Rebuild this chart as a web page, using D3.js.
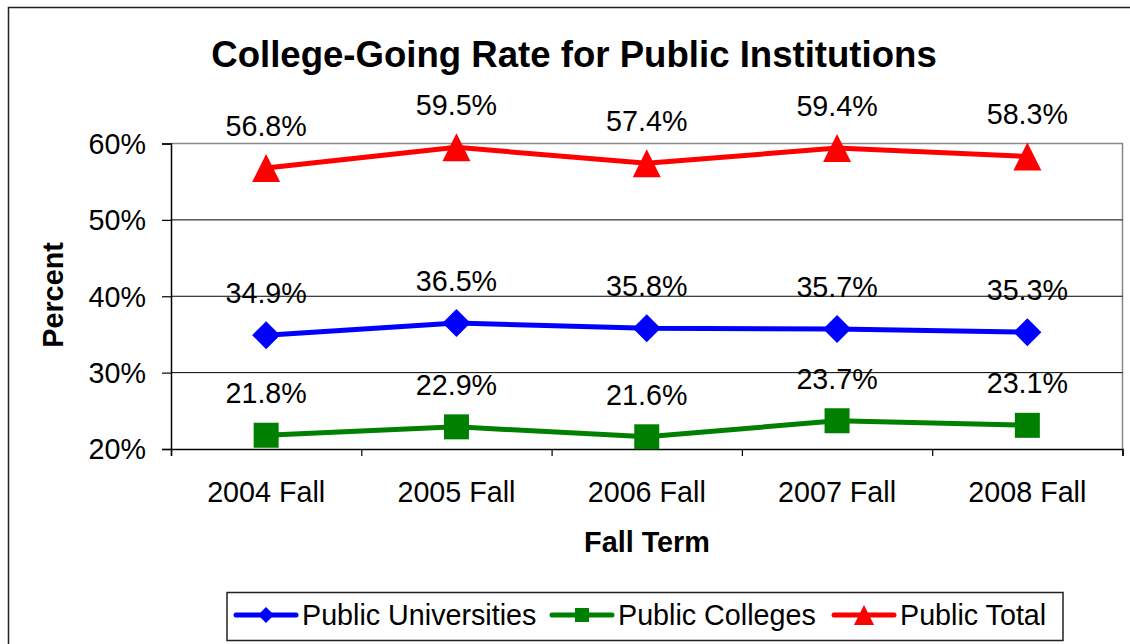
<!DOCTYPE html>
<html>
<head>
<meta charset="utf-8">
<script src="https://cdn.jsdelivr.net/npm/d3@7"></script>
<style>
  html, body { margin: 0; padding: 0; background: #fff; }
  svg { display: block; font-family: "Liberation Sans", Arial, sans-serif; }
</style>
</head>
<body>
<div id="chart"></div>
<script>
(function () {
  'use strict';

  const terms = ['2004 Fall', '2005 Fall', '2006 Fall', '2007 Fall', '2008 Fall'];
  const universities = [34.9, 36.5, 35.8, 35.7, 35.3];
  const colleges = [21.8, 22.9, 21.6, 23.7, 23.1];
  const total = [56.8, 59.5, 57.4, 59.4, 58.3];
  const yTicks = [20, 30, 40, 50, 60];

  const series = [
    { name: 'Public Universities', values: universities, color: '#0000ff', shape: 'diamond' },
    { name: 'Public Colleges', values: colleges, color: '#008000', shape: 'square' },
    { name: 'Public Total', values: total, color: '#ff0000', shape: 'triangle' }
  ];

  const width = 1130;
  const height = 644;
  const left = 171, right = 1122.5, top = 143.5, bottom = 449;
  const fontSize = '28.7px';

  const svg = d3.select('#chart')
    .append('svg')
    .attr('width', width)
    .attr('height', height);

  // outer chart border (runs off the right and bottom edge)
  svg.append('rect')
    .attr('x', 8.5).attr('y', 7.5)
    .attr('width', 1140).attr('height', 660)
    .attr('fill', '#fff')
    .attr('stroke', '#222')
    .attr('stroke-width', 1.5);

  const x = d3.scaleBand().domain(terms).range([left, right]).padding(0);
  const xEdge = d3.scaleLinear().domain([0, terms.length]).range([left, right]);
  const y = d3.scaleLinear().domain([20, 60]).range([bottom, top]);

  // title
  svg.append('text')
    .attr('x', 574).attr('y', 67)
    .attr('text-anchor', 'middle')
    .style('font-weight', 'bold')
    .style('font-size', '36.6px')
    .text('College-Going Rate for Public Institutions');

  // plot frame: grey top and right
  svg.append('path')
    .attr('d', 'M' + left + ',' + top + 'H' + right + 'V' + bottom)
    .attr('fill', 'none')
    .attr('stroke', '#888')
    .attr('stroke-width', 1.5);

  // gridlines
  svg.append('g')
    .selectAll('line')
    .data(yTicks.filter(d => d > 20 && d < 60))
    .enter()
    .append('line')
    .attr('x1', left).attr('x2', right)
    .attr('y1', d => y(d)).attr('y2', d => y(d))
    .attr('stroke', '#000')
    .attr('stroke-width', 1);

  // y axis
  const yAxis = svg.append('g')
    .attr('transform', 'translate(' + left + ',0)')
    .call(d3.axisLeft(y).tickValues(yTicks).tickSize(9).tickPadding(16).tickFormat(d => d + '%'));
  yAxis.select('.domain').attr('stroke', '#000').attr('stroke-width', 1.5);
  yAxis.selectAll('.tick line').attr('stroke', '#000').attr('stroke-width', 1.2);
  yAxis.selectAll('text')
    .attr('font-family', '"Liberation Sans", Arial, sans-serif')
    .style('font-size', fontSize)
    .attr('fill', '#000')
    .attr('dy', '0.34em');

  // x axis: tick marks on category edges
  const xTickAxis = svg.append('g')
    .attr('transform', 'translate(0,' + bottom + ')')
    .call(d3.axisBottom(xEdge).tickValues(d3.range(terms.length + 1)).tickSize(7).tickFormat(''));
  xTickAxis.select('.domain').attr('stroke', '#000').attr('stroke-width', 1.5);
  xTickAxis.selectAll('.tick line').attr('stroke', '#000').attr('stroke-width', 1.2);

  // x labels at category centres
  const xLabelAxis = svg.append('g')
    .attr('transform', 'translate(0,' + bottom + ')')
    .call(d3.axisBottom(x).tickSize(0).tickPadding(0));
  xLabelAxis.select('.domain').remove();
  xLabelAxis.selectAll('text')
    .attr('font-family', '"Liberation Sans", Arial, sans-serif')
    .style('font-size', fontSize)
    .attr('fill', '#000')
    .attr('dy', null)
    .attr('y', 52.5);

  // axis titles
  svg.append('text')
    .attr('x', 647).attr('y', 552)
    .attr('text-anchor', 'middle')
    .style('font-weight', 'bold')
    .style('font-size', '28.8px')
    .text('Fall Term');

  svg.append('text')
    .attr('transform', 'translate(63,295) rotate(-90)')
    .attr('text-anchor', 'middle')
    .style('font-weight', 'bold')
    .style('font-size', '28.8px')
    .text('Percent');

  function markerPath(shape, s) {
    const h = s / 2;
    if (shape === 'diamond') {
      return 'M0,' + (-h) + 'L' + h + ',0L0,' + h + 'L' + (-h) + ',0Z';
    }
    if (shape === 'square') {
      return 'M' + (-h) + ',' + (-h) + 'H' + h + 'V' + h + 'H' + (-h) + 'Z';
    }
    return 'M0,' + (-h) + 'L' + h + ',' + h + 'H' + (-h) + 'Z';
  }
  const markerSize = { diamond: 28, square: 25, triangle: 28 };
  const cx = d => x(d) + x.bandwidth() / 2;

  const line = d3.line()
    .x((d, i) => cx(terms[i]))
    .y(d => y(d));

  series.forEach(function (s) {
    const g = svg.append('g');
    g.append('path')
      .datum(s.values)
      .attr('d', line)
      .attr('fill', 'none')
      .attr('stroke', s.color)
      .attr('stroke-width', 5);

    g.selectAll('path.marker')
      .data(s.values)
      .enter()
      .append('path')
      .attr('class', 'marker')
      .attr('transform', (d, i) => 'translate(' + cx(terms[i]) + ',' + y(d) + ')')
      .attr('d', markerPath(s.shape, markerSize[s.shape]))
      .attr('fill', s.color);

    g.selectAll('text')
      .data(s.values)
      .enter()
      .append('text')
      .attr('x', (d, i) => cx(terms[i]))
      .attr('y', d => y(d) - 32)
      .attr('text-anchor', 'middle')
      .style('font-size', fontSize)
      .text(d => d.toFixed(1) + '%');
  });

  // legend
  const legend = svg.append('g');
  legend.append('rect')
    .attr('x', 227).attr('y', 592.5)
    .attr('width', 836).attr('height', 48)
    .attr('fill', '#fff')
    .attr('stroke', '#222')
    .attr('stroke-width', 1.5);

  const legendX = [236, 552, 834];
  const legendMarker = { diamond: 16, square: 14, triangle: 20 };
  series.forEach(function (s, i) {
    const lx = legendX[i];
    const ly = 615;
    legend.append('line')
      .attr('x1', lx).attr('x2', lx + 60)
      .attr('y1', ly).attr('y2', ly)
      .attr('stroke', s.color)
      .attr('stroke-width', 5)
      .attr('stroke-linecap', 'round');
    legend.append('path')
      .attr('transform', 'translate(' + (lx + 30) + ',' + ly + ')')
      .attr('d', markerPath(s.shape, legendMarker[s.shape]))
      .attr('fill', s.color);
    legend.append('text')
      .attr('x', lx + 66).attr('y', 625)
      .style('font-size', fontSize)
      .text(s.name);
  });
}());
</script>
</body>
</html>
